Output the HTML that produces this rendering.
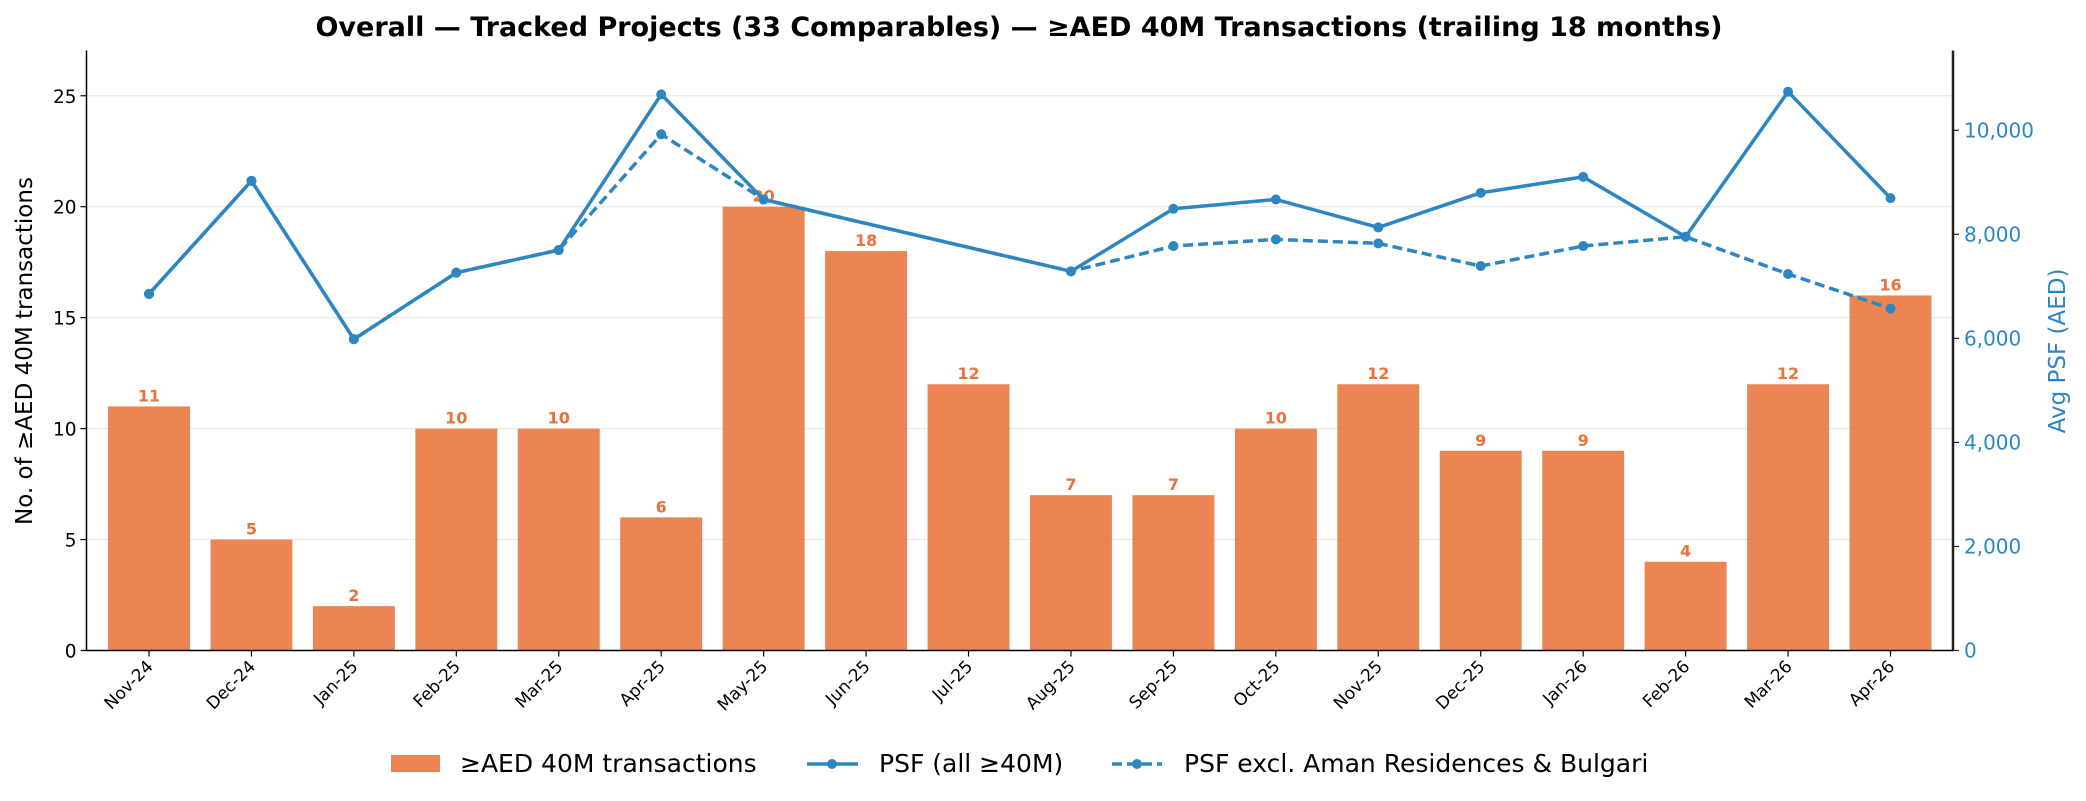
<!DOCTYPE html>
<html><head><meta charset="utf-8"><style>
html,body{margin:0;padding:0;background:#fff;}
svg{display:block;font-family:"DejaVu Sans","Liberation Sans",sans-serif;}
</style></head><body>
<svg id="chart" width="2086" height="801" viewBox="0 0 2086 801" xmlns="http://www.w3.org/2000/svg">
<text x="1019" y="36" text-anchor="middle" font-size="27" font-weight="bold">Overall — Tracked Projects (33 Comparables) — ≥AED 40M Transactions (trailing 18 months)</text>
<g id="grid"></g><g id="bars"></g><g id="lines"></g><g id="axes"></g>
<text transform="translate(32,351) rotate(-90)" text-anchor="middle" font-size="23">No. of ≥AED 40M transactions</text>
<text transform="translate(2065,351) rotate(-90)" text-anchor="middle" font-size="23" fill="#2E86C1">Avg PSF (AED)</text>
<g>
<rect x="391" y="755" width="49" height="17" fill="#E8743B" fill-opacity="0.88"/>
<text x="460" y="772" font-size="25">≥AED 40M transactions</text>
<line x1="807" y1="764" x2="858" y2="764" stroke="#2E86C1" stroke-width="3.5"/>
<circle cx="832" cy="764" r="5" fill="#2E86C1"/>
<text x="879" y="772" font-size="25">PSF (all ≥40M)</text>
<line x1="1112" y1="764" x2="1162" y2="764" stroke="#2E86C1" stroke-width="3.5" stroke-dasharray="10,5"/>
<circle cx="1137" cy="764" r="5" fill="#2E86C1"/>
<text x="1184" y="772" font-size="25">PSF excl. Aman Residences &amp; Bulgari</text>
</g>
</svg>
<script>
const categories=["Nov-24","Dec-24","Jan-25","Feb-25","Mar-25","Apr-25","May-25","Jun-25","Jul-25","Aug-25","Sep-25","Oct-25","Nov-25","Dec-25","Jan-26","Feb-26","Mar-26","Apr-26"];
const counts=[11,5,2,10,10,6,20,18,12,7,7,10,12,9,9,4,12,16];
const psfAll=[6854,9028,5985,7263,7698,10690,8670,null,null,7289,8491,8670,8133,8798,9105,7954,10742,8696];
const psfExcl=[6854,9028,5985,7263,7698,9923,8670,null,null,7289,7775,7903,7826,7391,7775,7954,7238,6573];
const leftTicks=[0,5,10,15,20,25];
const rightTicks=[0,2000,4000,6000,8000,10000];
const rightTickLabels=["0","2,000","4,000","6,000","8,000","10,000"];
const NS="http://www.w3.org/2000/svg";
const X0=86.5,X1=1953,Y0=650.5,Y1=50.5;
const xMin=-0.61,xMax=17.61,lMax=27.04,rMax=11534;
function xs(i){return X0+(i-xMin)/(xMax-xMin)*(X1-X0);}
function yl(v){return Y0-v/lMax*(Y0-Y1);}
function yr(v){return Y0-v/rMax*(Y0-Y1);}
function mk(t,a,p){const e=document.createElementNS(NS,t);for(const k in a)e.setAttribute(k,a[k]);if(p)p.appendChild(e);return e;}
const grid=document.getElementById('grid'),bars=document.getElementById('bars'),lines=document.getElementById('lines'),axes=document.getElementById('axes');
leftTicks.forEach(v=>{if(v>0){const g=mk('line',{x1:X0,x2:X1,y1:yl(v),y2:yl(v),stroke:'#e6e6e6','stroke-width':1},grid);

}});
const bw=(xs(1)-xs(0))*0.8;
counts.forEach((c,i)=>{const r=mk('rect',{x:xs(i)-bw/2,y:yl(c),width:bw,height:Y0-yl(c),fill:'#E8743B','fill-opacity':0.88},bars);


const t=mk('text',{x:xs(i),y:yl(c)-5,'text-anchor':'middle','font-size':16,'font-weight':'bold',fill:'#E8743B'},bars);t.textContent=c;

});
function series(vals,dash,name){const pts=[];vals.forEach((v,i)=>{if(v!==null)pts.push([xs(i),yr(v)]);});
const p=mk('polyline',{points:pts.map(q=>q.join(',')).join(' '),fill:'none',stroke:'#2E86C1','stroke-width':3.5,'stroke-linejoin':'round'},lines);
if(dash)p.setAttribute('stroke-dasharray','10,5');


pts.forEach(q=>{const c=mk('circle',{cx:q[0],cy:q[1],r:5,fill:'#2E86C1'},lines);

});}
series(psfExcl,true,'psf-excl');
series(psfAll,false,'psf-all');
mk('line',{x1:X0,x2:X0,y1:Y1,y2:Y0,stroke:'#000','stroke-width':1.5},axes);
mk('line',{x1:X1,x2:X1,y1:Y1,y2:Y0,stroke:'#222','stroke-width':2.5},axes);
mk('line',{x1:X0,x2:X1,y1:Y0,y2:Y0,stroke:'#000','stroke-width':1.5},axes);
leftTicks.forEach(v=>{mk('line',{x1:X0-6,x2:X0,y1:yl(v),y2:yl(v),stroke:'#000','stroke-width':1.2},axes);
const t=mk('text',{x:X0-10,y:yl(v)+7,'text-anchor':'end','font-size':18.5},axes);t.textContent=v;

});
rightTicks.forEach((v,i)=>{mk('line',{x1:X1,x2:X1+6,y1:yr(v),y2:yr(v),stroke:'#222','stroke-width':1.2},axes);
const t=mk('text',{x:X1+11,y:yr(v)+7,'font-size':20,fill:'#2E86C1'},axes);t.textContent=rightTickLabels[i];

});
categories.forEach((c,i)=>{const x=xs(i);mk('line',{x1:x,x2:x,y1:Y0,y2:Y0+6,stroke:'#000','stroke-width':1.2},axes);
const t=mk('text',{x:0,y:0,'text-anchor':'end','font-size':17,transform:'translate('+(x+5)+','+(Y0+17)+') rotate(-45)'},axes);t.textContent=c;

});
</script>
</body></html>
